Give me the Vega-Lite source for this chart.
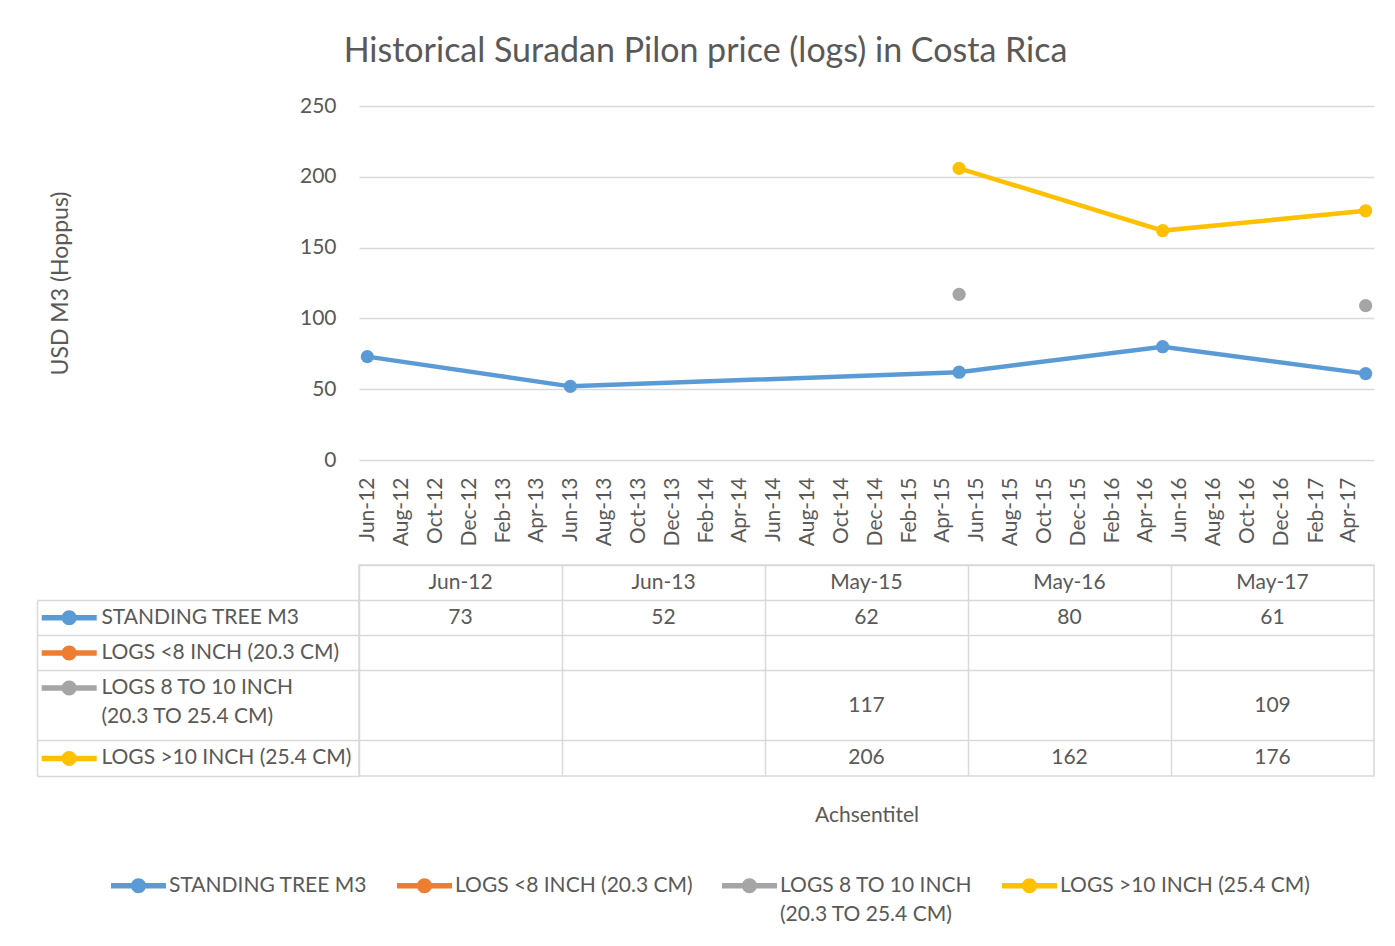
{
  "$schema": "https://vega.github.io/schema/vega-lite/v6.json",
  "background": "white",
  "padding": {"left": 36, "top": 35, "right": 10, "bottom": 5},
  "title": {"text": "Historical Suradan Pilon price (logs) in Costa Rica", "font": "Lato", "fontSize": 34, "fontWeight": "normal", "color": "#595959", "anchor": "middle", "offset": 26},
  "bounds": "flush",
  "columns": 2,
  "spacing": {"row": 105, "column": 0},
  "config": {
    "font": "Lato",
    "view": {"stroke": null},
    "axis": {"labelFont": "Lato", "labelColor": "#595959", "titleFont": "Lato", "titleColor": "#595959", "titleFontWeight": "normal", "gridColor": "#d9d9d9", "gridWidth": 1.5},
    "text": {"font": "Lato", "fontSize": 21, "color": "#595959"},
    "legend": {
      "orient": "none", "legendX": 74, "legendY": 752, "direction": "horizontal", "title": null, "padding": 0,
      "symbolType": "M-1,-0.1H-0.254V0.1H-1Z M0.254,-0.1H1V0.1H0.254Z M0.273,0A0.273,0.273,0,1,1,-0.273,0A0.273,0.273,0,1,1,0.273,0Z",
      "symbolSize": 3025, "symbolStrokeWidth": 0,
      "labelFont": "Lato", "labelFontSize": 21, "labelColor": "#595959", "labelLimit": 400, "labelOffset": 3,
      "columnPadding": 29
    }
  },
  "datasets": {
    "prices": [
      {"date": "2012-06-01", "month": "Jun-12", "series": "STANDING TREE M3", "value": 73},
      {"date": "2013-06-01", "month": "Jun-13", "series": "STANDING TREE M3", "value": 52},
      {"date": "2015-05-01", "month": "May-15", "series": "STANDING TREE M3", "value": 62},
      {"date": "2016-05-01", "month": "May-16", "series": "STANDING TREE M3", "value": 80},
      {"date": "2017-05-01", "month": "May-17", "series": "STANDING TREE M3", "value": 61},
      {"date": "2015-05-01", "month": "May-15", "series": "LOGS 8 TO 10 INCH (20.3 TO 25.4 CM)", "value": 117},
      {"date": "2017-05-01", "month": "May-17", "series": "LOGS 8 TO 10 INCH (20.3 TO 25.4 CM)", "value": 109},
      {"date": "2015-05-01", "month": "May-15", "series": "LOGS >10 INCH (25.4 CM)", "value": 206},
      {"date": "2016-05-01", "month": "May-16", "series": "LOGS >10 INCH (25.4 CM)", "value": 162},
      {"date": "2017-05-01", "month": "May-17", "series": "LOGS >10 INCH (25.4 CM)", "value": 176}
    ],
    "months": [
      {"month": "Jun-12"}, {"month": "Jun-13"}, {"month": "May-15"}, {"month": "May-16"}, {"month": "May-17"}
    ],
    "series": [
      {"series": "STANDING TREE M3", "text": "STANDING TREE M3"},
      {"series": "LOGS <8 INCH (20.3 CM)", "text": "LOGS <8 INCH (20.3 CM)"},
      {"series": "LOGS 8 TO 10 INCH (20.3 TO 25.4 CM)", "text": "LOGS 8 TO 10 INCH\n\u00a0(20.3 TO 25.4 CM)"},
      {"series": "LOGS >10 INCH (25.4 CM)", "text": "LOGS >10 INCH (25.4 CM)"}
    ]
  },
  "concat": [
    {
      "width": 322, "height": 354,
      "data": {"values": []},
      "mark": "point"
    },
    {
      "width": 1015, "height": 354,
      "data": {"name": "prices"},
      "encoding": {
        "x": {
          "field": "date", "type": "temporal",
          "scale": {"domain": [{"year": 2012, "month": 5, "date": 17}, {"year": 2017, "month": 5, "date": 16}]},
          "axis": {
            "title": null, "grid": false, "domain": false, "ticks": false, "labelAngle": -90, "labelPadding": 17, "labelFontSize": 21, "format": "%b-%y", "labelOverlap": false,
            "values": [
              {"year": 2012, "month": 6, "date": 1}, {"year": 2012, "month": 8, "date": 1}, {"year": 2012, "month": 10, "date": 1}, {"year": 2012, "month": 12, "date": 1},
              {"year": 2013, "month": 2, "date": 1}, {"year": 2013, "month": 4, "date": 1}, {"year": 2013, "month": 6, "date": 1}, {"year": 2013, "month": 8, "date": 1}, {"year": 2013, "month": 10, "date": 1}, {"year": 2013, "month": 12, "date": 1},
              {"year": 2014, "month": 2, "date": 1}, {"year": 2014, "month": 4, "date": 1}, {"year": 2014, "month": 6, "date": 1}, {"year": 2014, "month": 8, "date": 1}, {"year": 2014, "month": 10, "date": 1}, {"year": 2014, "month": 12, "date": 1},
              {"year": 2015, "month": 2, "date": 1}, {"year": 2015, "month": 4, "date": 1}, {"year": 2015, "month": 6, "date": 1}, {"year": 2015, "month": 8, "date": 1}, {"year": 2015, "month": 10, "date": 1}, {"year": 2015, "month": 12, "date": 1},
              {"year": 2016, "month": 2, "date": 1}, {"year": 2016, "month": 4, "date": 1}, {"year": 2016, "month": 6, "date": 1}, {"year": 2016, "month": 8, "date": 1}, {"year": 2016, "month": 10, "date": 1}, {"year": 2016, "month": 12, "date": 1},
              {"year": 2017, "month": 2, "date": 1}, {"year": 2017, "month": 4, "date": 1}
            ]
          }
        },
        "y": {
          "field": "value", "type": "quantitative",
          "scale": {"domain": [0, 250]},
          "axis": {"title": "USD M3 (Hoppus)", "titleFontSize": 23, "titlePadding": 227, "values": [0, 50, 100, 150, 200, 250], "domain": false, "ticks": false, "labelPadding": 23, "labelFontSize": 21}
        },
        "color": {
          "field": "series", "type": "nominal",
          "scale": {"domain": ["STANDING TREE M3", "LOGS <8 INCH (20.3 CM)", "LOGS 8 TO 10 INCH (20.3 TO 25.4 CM)", "LOGS >10 INCH (25.4 CM)"], "range": ["#5B9BD5", "#ED7D31", "#A5A5A5", "#FFC000"]},
          "legend": {
            "labelExpr": "datum.label == 'LOGS 8 TO 10 INCH (20.3 TO 25.4 CM)' ? ['LOGS 8 TO 10 INCH', '(20.3 TO 25.4 CM)'] : [datum.label, '']",
            "encode": {
              "symbols": {"update": {"fill": {"scale": "color", "field": "value"}, "opacity": {"value": 1}, "strokeWidth": {"value": 0}}},
              "labels": {"update": {"lineHeight": {"value": 29}}}
            }
          }
        }
      },
      "layer": [
        {
          "transform": [{"filter": "datum.series != 'LOGS 8 TO 10 INCH (20.3 TO 25.4 CM)'"}],
          "mark": {"type": "line", "strokeWidth": 4.5}
        },
        {
          "mark": {"type": "point", "filled": true, "size": 175, "opacity": 1, "strokeWidth": 0}
        }
      ]
    },
    {
      "width": 322, "height": 211,
      "data": {"name": "series"},
      "layer": [
        {
          "mark": {"type": "point", "shape": "M-1,-0.1H-0.254V0.1H-1Z M0.254,-0.1H1V0.1H0.254Z M0.273,0A0.273,0.273,0,1,1,-0.273,0A0.273,0.273,0,1,1,0.273,0Z", "size": 3025, "filled": true, "opacity": 1, "strokeWidth": 0},
          "encoding": {
            "x": {"datum": "key", "type": "nominal", "scale": {"type": "band", "domain": ["key", "name", "c3", "c4", "c5"], "paddingInner": 0, "paddingOuter": 0},
              "axis": {"orient": "bottom", "values": ["key"], "bandPosition": 0, "labels": false, "ticks": true, "tickSize": -176, "tickColor": "#d9d9d9", "tickWidth": 1.5, "domain": true, "domainColor": "#d9d9d9", "domainWidth": 1.5, "grid": false, "title": null}},
            "y": {"field": "series", "type": "nominal", "scale": {"type": "band", "domain": ["_header", "STANDING TREE M3", "LOGS <8 INCH (20.3 CM)", "LOGS 8 TO 10 INCH (20.3 TO 25.4 CM)", "_cont", "LOGS >10 INCH (25.4 CM)"], "paddingInner": 0, "paddingOuter": 0},
              "axis": {"grid": true, "bandPosition": 0, "gridOpacity": {"condition": {"test": "datum.value == '_header' || datum.value == '_cont'", "value": 0}, "value": 1}, "labels": false, "ticks": false, "domain": false, "title": null}},
            "color": {"field": "series", "type": "nominal", "legend": null}
          }
        },
        {
          "mark": {"type": "text", "align": "left", "baseline": "middle", "fontSize": 21, "color": "#595959", "lineBreak": "\n", "lineHeight": 29},
          "encoding": {
            "x": {"datum": "name", "type": "nominal", "bandPosition": 0, "scale": {"type": "band", "domain": ["key", "name", "c3", "c4", "c5"], "paddingInner": 0, "paddingOuter": 0},
              "axis": {"orient": "bottom", "values": ["key"], "bandPosition": 0, "labels": false, "ticks": true, "tickSize": -176, "tickColor": "#d9d9d9", "tickWidth": 1.5, "domain": true, "domainColor": "#d9d9d9", "domainWidth": 1.5, "grid": false, "title": null}},
            "y": {"field": "series", "type": "nominal", "scale": {"type": "band", "domain": ["_header", "STANDING TREE M3", "LOGS <8 INCH (20.3 CM)", "LOGS 8 TO 10 INCH (20.3 TO 25.4 CM)", "_cont", "LOGS >10 INCH (25.4 CM)"], "paddingInner": 0, "paddingOuter": 0},
              "axis": {"grid": true, "bandPosition": 0, "gridOpacity": {"condition": {"test": "datum.value == '_header' || datum.value == '_cont'", "value": 0}, "value": 1}, "labels": false, "ticks": false, "domain": false, "title": null}},
            "text": {"field": "text", "type": "nominal"}
          }
        }
      ]
    },
    {
      "width": 1015, "height": 211,
      "view": {"stroke": "#d9d9d9", "strokeWidth": 1.5},
      "layer": [
        {
          "data": {"name": "prices"},
          "transform": [{"filter": "datum.series != 'LOGS 8 TO 10 INCH (20.3 TO 25.4 CM)'"}],
          "mark": {"type": "text", "align": "center", "baseline": "middle", "fontSize": 21, "color": "#595959"},
          "encoding": {
            "x": {"field": "month", "type": "nominal", "scale": {"type": "band", "domain": ["Jun-12", "Jun-13", "May-15", "May-16", "May-17"], "paddingInner": 0, "paddingOuter": 0},
              "axis": {"orient": "bottom", "grid": true, "bandPosition": 0, "labels": false, "ticks": false, "domain": false, "title": "Achsentitel", "titleFontSize": 21, "titlePadding": 28}},
            "y": {"field": "series", "type": "nominal", "scale": {"type": "band", "domain": ["_header", "STANDING TREE M3", "LOGS <8 INCH (20.3 CM)", "LOGS 8 TO 10 INCH (20.3 TO 25.4 CM)", "_cont", "LOGS >10 INCH (25.4 CM)"], "paddingInner": 0, "paddingOuter": 0},
              "axis": {"grid": true, "bandPosition": 0, "gridOpacity": {"condition": {"test": "datum.value == '_cont'", "value": 0}, "value": 1}, "labels": false, "ticks": false, "domain": false, "title": null}},
            "text": {"field": "value", "type": "quantitative"}
          }
        },
        {
          "data": {"name": "prices"},
          "transform": [{"filter": "datum.series == 'LOGS 8 TO 10 INCH (20.3 TO 25.4 CM)'"}],
          "mark": {"type": "text", "align": "center", "baseline": "middle", "fontSize": 21, "color": "#595959"},
          "encoding": {
            "x": {"field": "month", "type": "nominal", "scale": {"type": "band", "domain": ["Jun-12", "Jun-13", "May-15", "May-16", "May-17"], "paddingInner": 0, "paddingOuter": 0},
              "axis": {"orient": "bottom", "grid": true, "bandPosition": 0, "labels": false, "ticks": false, "domain": false, "title": "Achsentitel", "titleFontSize": 21, "titlePadding": 28}},
            "y": {"field": "series", "type": "nominal", "bandPosition": 1, "scale": {"type": "band", "domain": ["_header", "STANDING TREE M3", "LOGS <8 INCH (20.3 CM)", "LOGS 8 TO 10 INCH (20.3 TO 25.4 CM)", "_cont", "LOGS >10 INCH (25.4 CM)"], "paddingInner": 0, "paddingOuter": 0},
              "axis": {"grid": true, "bandPosition": 0, "gridOpacity": {"condition": {"test": "datum.value == '_cont'", "value": 0}, "value": 1}, "labels": false, "ticks": false, "domain": false, "title": null}},
            "text": {"field": "value", "type": "quantitative"}
          }
        },
        {
          "data": {"name": "months"},
          "mark": {"type": "text", "align": "center", "baseline": "middle", "fontSize": 21, "color": "#595959"},
          "encoding": {
            "x": {"field": "month", "type": "nominal", "scale": {"type": "band", "domain": ["Jun-12", "Jun-13", "May-15", "May-16", "May-17"], "paddingInner": 0, "paddingOuter": 0},
              "axis": {"orient": "bottom", "grid": true, "bandPosition": 0, "labels": false, "ticks": false, "domain": false, "title": "Achsentitel", "titleFontSize": 21, "titlePadding": 28}},
            "y": {"datum": "_header", "type": "nominal", "scale": {"type": "band", "domain": ["_header", "STANDING TREE M3", "LOGS <8 INCH (20.3 CM)", "LOGS 8 TO 10 INCH (20.3 TO 25.4 CM)", "_cont", "LOGS >10 INCH (25.4 CM)"], "paddingInner": 0, "paddingOuter": 0},
              "axis": {"grid": true, "bandPosition": 0, "gridOpacity": {"condition": {"test": "datum.value == '_cont'", "value": 0}, "value": 1}, "labels": false, "ticks": false, "domain": false, "title": null}},
            "text": {"field": "month", "type": "nominal"}
          }
        }
      ]
    }
  ]
}
